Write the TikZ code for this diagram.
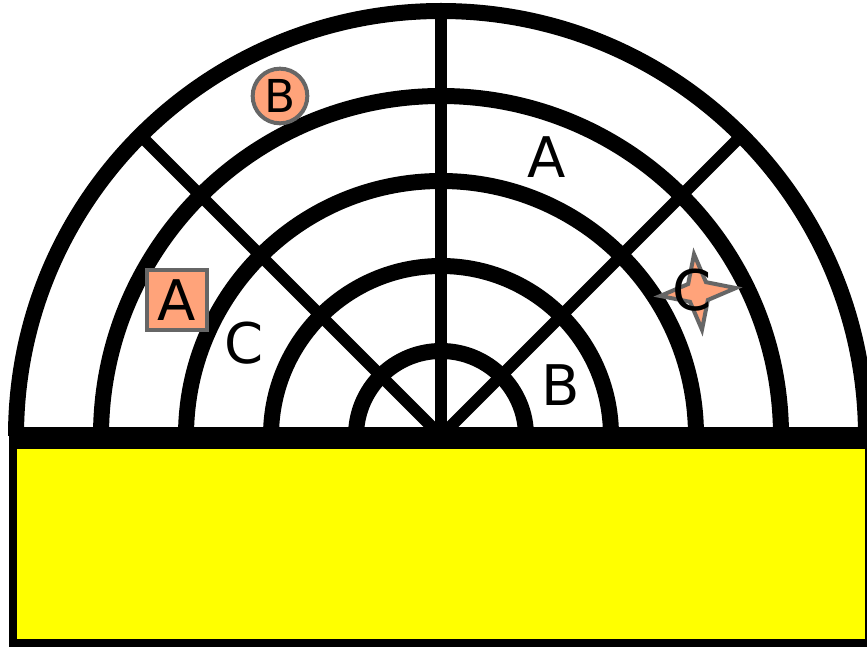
\documentclass[tikz,border=0pt]{standalone}
\usepackage{fontspec}
\setmainfont{DejaVu Sans}
\usetikzlibrary{shapes.geometric,calc}
\definecolor{salmonfill}{RGB}{255,163,122}
\definecolor{edgegray}{RGB}{102,102,102}
\definecolor{baseyellow}{RGB}{255,255,0}
\begin{document}
\begin{tikzpicture}[x=0.75pt,y=-0.75pt,
  ring/.style={line width=12pt},
  spoke/.style={line width=9pt},
  lbl/.style={font=\fontsize{42}{42}\selectfont, inner sep=0pt},
  marked/.style={fill=salmonfill, draw=edgegray, line width=3pt, inner sep=0pt}]
\useasboundingbox (0,0) rectangle (867,648);
\clip (0,0) rectangle (867,648);
\coordinate (O) at (441,436);
% base
\draw[fill=baseyellow, line width=6pt] (13,445) rectangle (869,643);
\fill (9,427) rectangle (875,447);
% rings
\foreach \r in {85,170,255,340,425}
  \draw[ring] ($(O)+(\r,0)$) arc[start angle=0,end angle=-180,radius=\r];
% spokes
\draw[spoke] (O) -- ($(O)+(-90:422)$) coordinate (top);
\draw[spoke] (O) -- ($(O)+(-135:418)$) coordinate (ul);
\draw[spoke] (O) -- ($(O)+(-45:418)$) coordinate (ur);
% labels
\node[lbl] (la) at (547,157) {A};
\node[lbl] (lb) at (561,385) {B};
\node[lbl] (lc) at (244,343) {C};
\node[marked, rectangle, minimum size=45pt, lbl] (ma) at (177,300) {A};
\node[marked, circle, minimum size=41pt, font=\fontsize{34}{34}\selectfont] (mb) at (280,96) {B};
\node[marked, star, star points=4, star point ratio=3, minimum size=57pt, rotate=6] (mc) at (698,292) {};
\node[lbl] (mct) at (692,290) {C};
\end{tikzpicture}
\end{document}
